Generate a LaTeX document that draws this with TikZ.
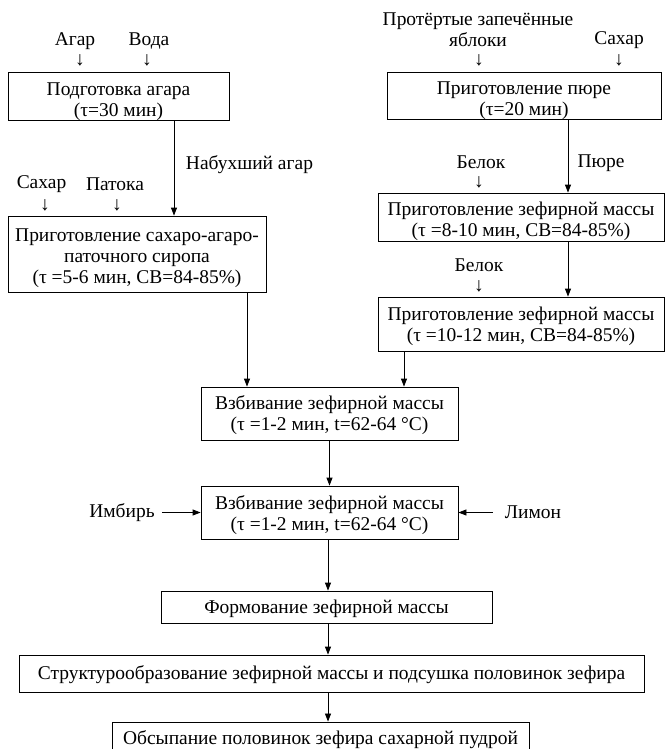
\documentclass[tikz,border=0pt]{standalone}
\usepackage{fontspec}
\setmainfont{Liberation Serif}
\usetikzlibrary{arrows.meta}
\begin{document}
\begin{tikzpicture}[x=0.75pt,y=-0.75pt,
  every node/.style={font=\fontsize{14.6}{15.6}\selectfont, inner sep=0pt, align=center},
  box/.style={draw, line width=0.6pt},
  txt/.style={},
  lbl/.style={},
  dn/.style={font=\fontsize{14.6}{14.6}\selectfont},
  arr/.style={line width=0.6pt, -{Triangle[length=6pt,width=4.5pt]}}]
\useasboundingbox (0,0) rectangle (665,749);
\clip (0,0) rectangle (665,749);
% boxes
\node[box, minimum width=165.75pt, minimum height=36pt] (agar) at (118.5,96) {};
\node[txt] (agart) at ([yshift=-4.5pt]agar.center) {Подготовка агара\\(τ=30 мин)};
\node[box, minimum width=205.5pt, minimum height=35.25pt] (pure) at (524,95.5) {};
\node[txt] (puret) at ([yshift=-4pt]pure.center) {Приготовление пюре\\(τ=20 мин)};
\node[box, minimum width=193.5pt, minimum height=57pt] (syrup) at (137,254) {};
\node[txt] (syrupt) at ([yshift=-3pt]syrup.center) {Приготовление сахаро-агаро-\\паточного сиропа\\(τ =5-6 мин, СВ=84-85\%)};
\node[box, minimum width=214.5pt, minimum height=36pt] (zef1) at (521,217) {};
\node[txt] (zef1t) at ([yshift=-3.5pt]zef1.center) {Приготовление зефирной массы\\(τ =8-10 мин, СВ=84-85\%)};
\node[box, minimum width=214.5pt, minimum height=40.5pt] (zef2) at (521,324) {};
\node[txt] (zef2t) at ([yshift=-2pt]zef2.center) {Приготовление зефирной массы\\(τ =10-12 мин, СВ=84-85\%)};
\node[box, minimum width=192.75pt, minimum height=39.75pt] (whip1) at (329.5,413.5) {};
\node[txt] (whip1t) at ([yshift=-1.5pt]whip1.center) {Взбивание зефирной массы\\(τ =1-2 мин, t=62-64 °C)};
\node[box, minimum width=192.75pt, minimum height=39.75pt] (whip2) at (329.5,512.5) {};
\node[txt] (whip2t) at ([yshift=-2pt]whip2.center) {Взбивание зефирной массы\\(τ =1-2 мин, t=62-64 °C)};
\node[box, minimum width=248.25pt, minimum height=24pt] (form) at (326.5,607) {};
\node[txt] (formt) at ([yshift=-1.5pt]form.center) {Формование зефирной массы};
\node[box, minimum width=468.75pt, minimum height=27.75pt] (struct) at (331.5,673.5) {};
\node[txt] (structt) at ([yshift=-0.75pt]struct.center) {Структурообразование зефирной массы и подсушка половинок зефира};
\node[box, minimum width=312.75pt, minimum height=26pt] (dust) at (320.5,739.3) {};
\node[txt] (dustt) at (dust.center) {Обсыпание половинок зефира сахарной пудрой};
% input labels
\node[lbl] (agarin) at (75,41.5) {Агар};
\node[dn] (agarar) at (80,60) {↓};
\node[lbl] (water) at (149,41.5) {Вода};
\node[dn] (waterar) at (147,60) {↓};
\node[lbl] (apples) at (478,29.5) {Протёртые запечённые\\яблоки};
\node[dn] (applesar) at (479,60) {↓};
\node[lbl] (sug1) at (619,40.5) {Сахар};
\node[dn] (sug1ar) at (619,60) {↓};
\node[lbl] (sug2) at (41.5,184.5) {Сахар};
\node[dn] (sug2ar) at (45,205) {↓};
\node[lbl] (mol) at (115,184.5) {Патока};
\node[dn] (molar) at (117,205) {↓};
\node[lbl] (prot1) at (481,162) {Белок};
\node[dn] (prot1ar) at (479,182.5) {↓};
\node[lbl] (prot2) at (479,265.5) {Белок};
\node[dn] (prot2ar) at (479,286.5) {↓};
\node[lbl] (swell) at (249.5,164.5) {Набухший агар};
\node[lbl] (purel) at (601,163.5) {Пюре};
\node[lbl] (ginger) at (122,512.5) {Имбирь};
\node[lbl] (lemon) at (533,512.5) {Лимон};
% connectors
\draw[arr] (agar.south -| 174,0) -- (syrup.north -| 174,0);
\draw[arr] (pure.south -| 568,0) -- (zef1.north -| 568,0);
\draw[arr] (zef1.south -| 568,0) -- (zef2.north -| 568,0);
\draw[arr] (syrup.south -| 247,0) -- (whip1.north -| 247,0);
\draw[arr] (zef2.south -| 404,0) -- (whip1.north -| 404,0);
\draw[arr] (whip1.south) -- (whip2.north);
\draw[arr] (whip2.south -| 328,0) -- (form.north -| 328,0);
\draw[arr] (form.south -| 328,0) -- (struct.north -| 328,0);
\draw[arr] (struct.south -| 328,0) -- (dust.north -| 328,0);
\draw[arr] (ginger.east) ++(7,0) -- (whip2.west);
\draw[arr] (lemon.west) ++(-12,0) -- (whip2.east);
\end{tikzpicture}
\end{document}
